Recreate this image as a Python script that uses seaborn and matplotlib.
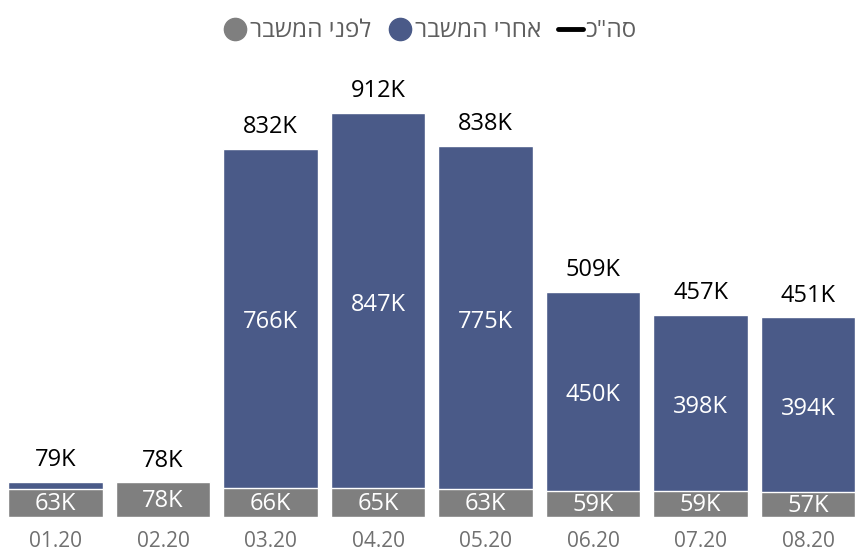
import matplotlib
matplotlib.use("Agg")
from matplotlib import pyplot as plt
from matplotlib.lines import Line2D
import seaborn as sns
import pandas as pd

# monthly values in thousands
months = ["01.20", "02.20", "03.20", "04.20", "05.20", "06.20", "07.20", "08.20"]
before_crisis = [63, 78, 66, 65, 63, 59, 59, 57]
after_crisis = [16, 0, 766, 847, 775, 450, 398, 394]
totals = [79, 78, 832, 912, 838, 509, 457, 451]

# legend names (logical order); matplotlib has no bidi so they are flipped for display
name_before = "לפני המשבר"
name_after = "אחרי המשבר"
name_total = 'סה"כ'

blue = "#4A5A88"
gray = "#7F7F7F"

sns.set_theme(style="white")
plt.rcParams['font.family'] = ['Open Sans', 'DejaVu Sans']

df = pd.DataFrame({"month": months, "before": before_crisis,
                   "after": after_crisis, "total": totals})
df["stack"] = df["before"] + df["after"]

fig = plt.figure(figsize=(8.68, 5.57), dpi=100)
ax = fig.add_axes([0.002, 0.0718, 0.991, 0.795])

# blue = full stack, gray drawn over it as the bottom part
sns.barplot(data=df, x="month", y="stack", color=blue, width=0.88,
            saturation=1, ax=ax)
sns.barplot(data=df, x="month", y="before", color=gray, width=0.88,
            saturation=1, ax=ax)

ax.set_ylim(0, 1000)
ax.set_xlim(-0.5, len(months) - 0.5)
ax.set_xlabel("")
ax.set_ylabel("")
ax.set_yticks([])
sns.despine(ax=ax, left=True, bottom=True)
ax.tick_params(axis="x", length=0, labelsize=15, colors="#707070", pad=10)

for i, row in df.iterrows():
    # gray segment label
    ax.annotate(f"{row['before']}K", (i, row["before"] / 2), xytext=(0, -1),
                textcoords="offset points", ha="center", va="center",
                color="white", fontsize=17)
    # blue segment label, only when tall enough
    if row["after"] > 100:
        ax.annotate(f"{row['after']}K", (i, row["before"] + row["after"] / 2),
                    xytext=(0, -3), textcoords="offset points",
                    ha="center", va="center", color="white", fontsize=17)
    ax.annotate(f"{row['total']}K", (i, row["stack"]), xytext=(0, 7),
                textcoords="offset points", ha="center", va="bottom",
                color="black", fontsize=17)

handles = [
    Line2D([], [], marker="o", linestyle="none", markersize=16, color=gray),
    Line2D([], [], marker="o", linestyle="none", markersize=16, color=blue),
    Line2D([], [], color="black", lw=3.5),
]
labels = [name_before[::-1], name_after[::-1], name_total[::-1]]
fig.legend(handles, labels, loc="upper center", bbox_to_anchor=(0.495, 1.005),
           ncol=3, frameon=False, fontsize=17.5, handlelength=1.0,
           handletextpad=0.1, columnspacing=0.7, labelcolor="#5F5F5F")

fig.savefig("out.png", dpi=100)
